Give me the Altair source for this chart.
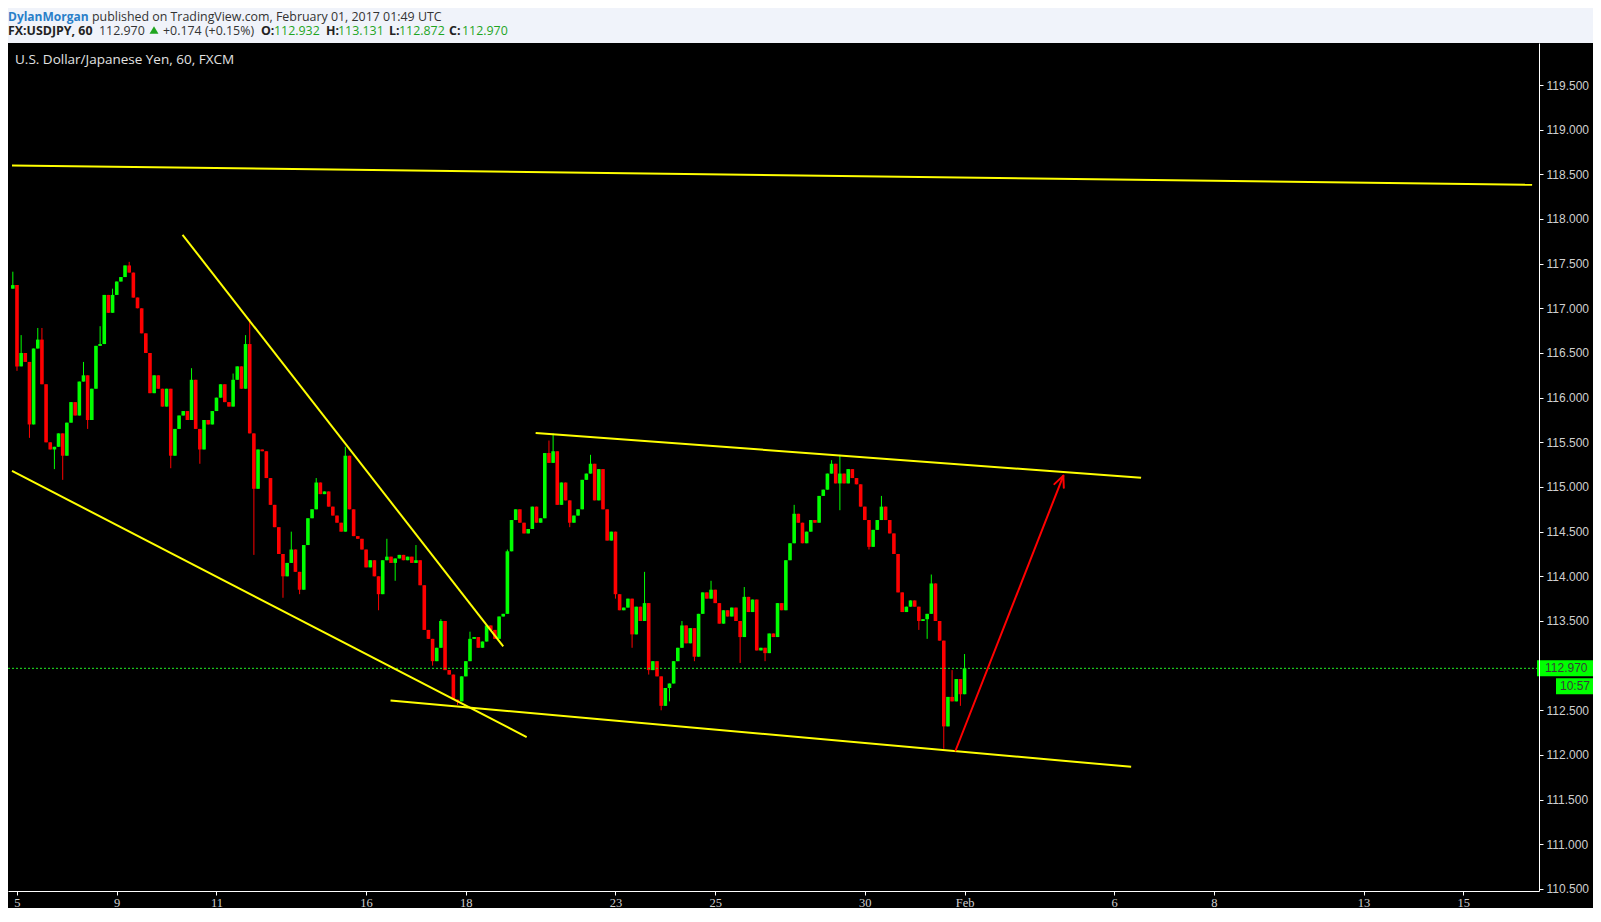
import altair as alt
import pandas as pd

# ---------------- data (2-hour bars, day index = bar/12, weekends skipped) ----------------
FIRST_BAR = -1
FIRST_OPEN = 117.22
CLOSES = [
    117.26,
    116.35, 116.50, 116.40, 115.70, 116.55, 116.65, 116.15, 115.50, 115.42, 115.45, 115.60, 115.35,
    115.72, 115.95, 115.80, 116.18, 116.25, 115.75, 116.10, 116.58, 116.60, 117.15, 116.95, 117.15,
    117.30, 117.35, 117.48, 117.40, 117.12, 117.00, 116.72, 116.50, 116.05, 116.25, 116.10, 115.90,
    116.10, 115.35, 115.65, 115.80, 115.85, 115.75, 116.20, 115.65, 115.42, 115.75, 115.70, 115.85,
    116.00, 116.15, 115.95, 115.90, 116.20, 116.35, 116.10, 116.60, 115.60, 114.98, 115.42, 115.40,
    115.10, 114.80, 114.55, 114.25, 114.00, 114.15, 114.30, 114.05, 113.85, 114.35, 114.65, 114.75,
    115.05, 114.92, 114.95, 114.78, 114.68, 114.60, 114.50, 115.35, 114.75, 114.45, 114.42, 114.30,
    114.10, 114.18, 114.00, 113.80, 114.18, 114.22, 114.15, 114.20, 114.24, 114.18, 114.22, 114.15,
    114.18, 113.90, 113.40, 113.30, 113.05, 113.20, 113.50, 112.95, 112.90, 112.62, 112.60, 112.88,
    113.05, 113.30, 113.32, 113.20, 113.27, 113.45, 113.40, 113.30, 113.55, 113.58, 114.28, 114.63,
    114.75, 114.60, 114.48, 114.53, 114.78, 114.60, 114.65, 115.38, 115.27, 115.40, 114.80, 115.05,
    114.85, 114.60, 114.68, 114.75, 115.08, 115.15, 115.26, 114.85, 115.20, 114.75, 114.40, 114.50,
    113.80, 113.62, 113.65, 113.75, 113.35, 113.66, 113.50, 113.70, 112.95, 113.05, 112.88, 112.55,
    112.75, 112.80, 113.05, 113.20, 113.45, 113.25, 113.42, 113.10, 113.58, 113.82, 113.75, 113.85,
    113.70, 113.47, 113.62, 113.55, 113.65, 113.50, 113.32, 113.77, 113.60, 113.74, 113.17, 113.20,
    113.14, 113.36, 113.32, 113.70, 113.62, 114.18, 114.37, 114.70, 114.60, 114.37, 114.50, 114.63,
    114.60, 114.90, 114.97, 115.15, 115.26, 115.04, 115.15, 115.04, 115.20, 115.10, 115.03, 114.78,
    114.63, 114.33, 114.52, 114.63, 114.78, 114.63, 114.48, 114.25, 113.82, 113.60, 113.66, 113.73,
    113.66, 113.50, 113.52, 113.58, 113.92, 113.50, 113.28, 112.32, 112.65, 112.60, 112.85, 112.68,
    112.97,
]
HIGH_WICKS = {-1: 117.41, 1: 116.70, 5: 116.78, 6: 116.78, 16: 116.40, 20: 116.80, 23: 117.22,
              27: 117.52, 42: 116.33, 52: 116.27, 55: 116.70, 56: 116.88, 66: 114.50, 72: 115.10,
              79: 115.45, 89: 114.42, 96: 114.35, 102: 113.52, 109: 113.38, 118: 114.30, 128: 115.52,
              129: 115.60, 138: 115.36, 151: 114.05, 160: 113.50, 167: 113.95, 175: 113.88,
              187: 114.80, 196: 115.30, 198: 115.36, 208: 114.90, 220: 114.02, 225: 112.95, 228: 113.13}
LOW_WICKS = {0: 116.30, 3: 115.55, 9: 115.20, 11: 115.08, 17: 115.65, 37: 115.21, 44: 115.26,
             57: 114.24, 64: 113.76, 68: 113.80, 87: 113.62, 91: 113.95, 100: 113.00, 106: 112.56,
             133: 114.55, 144: 113.75, 148: 113.20, 152: 112.90, 155: 112.50, 157: 112.60,
             163: 113.05, 174: 113.03, 180: 113.05, 198: 114.74, 205: 114.30, 217: 113.40,
             219: 113.30, 223: 112.07, 227: 112.55}

BARS_PER_DAY = 12
TICK_DAYS = [0, 2, 4, 7, 9, 12, 14, 17, 19, 22, 24, 27, 29]
TICK_LABELS = ["5", "9", "11", "16", "18", "23", "25", "30", "Feb", "6", "8", "13", "15"]
PRICE_TICKS = [110.5, 111.0, 111.5, 112.0, 112.5, 113.0, 113.5, 114.0, 114.5, 115.0, 115.5,
               116.0, 116.5, 117.0, 117.5, 118.0, 118.5, 119.0, 119.5]
LAST_PRICE = 112.970
COUNTDOWN = "10:57"

# trend lines drawn on the chart: (day, price) -> (day, price)
YELLOW_LINES = [
    (-0.10, 118.600, 30.38, 118.383),
    (-0.10, 115.180, 10.22, 112.200),
    (3.32, 117.823, 9.75, 113.217),
    (7.49, 112.610, 22.34, 111.867),
    (10.40, 115.605, 22.54, 115.103),
]
RED_ARROW = [
    (18.82, 112.050, 20.98, 115.125),
    (20.98, 115.125, 20.80, 115.032),
    (20.98, 115.125, 20.99, 114.991),
]

# ---------------- build tables ----------------
rows = []
prev = FIRST_OPEN
for i, c in enumerate(CLOSES):
    k = FIRST_BAR + i
    o = prev
    hi = max(o, c, HIGH_WICKS.get(k, max(o, c)))
    lo = min(o, c, LOW_WICKS.get(k, min(o, c)))
    rows.append({"t": k / BARS_PER_DAY, "open": o, "close": c, "high": hi, "low": lo,
                 "up": "up" if c >= o else "down"})
    prev = c
bars = pd.DataFrame(rows)
yl = pd.DataFrame(YELLOW_LINES, columns=["t1", "p1", "t2", "p2"])
ra = pd.DataFrame(RED_ARROW, columns=["t1", "p1", "t2", "p2"])

# ---------------- layout ----------------
W, H = 1531, 848
PAD_TOP, PAD_RIGHT, PAD_BOTTOM = 35, 54, 17
PX_PER_DAY = 50.2
PX_PER_UNIT = 89.33
T0 = -0.08
T1 = T0 + W / PX_PER_DAY
P_TOP = 119.5 + 42 / PX_PER_UNIT
P_BOT = P_TOP - H / PX_PER_UNIT

label_expr = "''"
for d, lab in reversed(list(zip(TICK_DAYS, TICK_LABELS))):
    label_expr = f"datum.value == {d} ? '{lab}' : ({label_expr})"

xscale = alt.Scale(domain=[T0, T1], nice=False, zero=False)
yscale = alt.Scale(domain=[P_BOT, P_TOP], nice=False, zero=False)

# the 113.000 label sits under the last-price box, as in the original
axis_prices = [v for v in PRICE_TICKS if abs(v - LAST_PRICE) > 0.1]

xaxis = alt.Axis(values=TICK_DAYS, labelExpr=label_expr, title=None, grid=False,
                 domainColor="#ffffff", tickColor="#ffffff", tickSize=4, labelPadding=1,
                 labelColor="#cfcfcf", labelFont="Liberation Sans Narrow", labelFontSize=12.5,
                 zindex=1, labelFlush=False, labelOverlap=False)
yaxis = alt.Axis(orient="right", values=axis_prices, format=".3f", title=None, grid=False,
                 domainColor="#ffffff", tickColor="#ffffff", tickSize=4, labelPadding=3,
                 labelColor="#cfcfcf", labelFont="Liberation Sans", labelFontSize=12,
                 zindex=1, labelFlush=False, labelOverlap=False)

one = pd.DataFrame({"a": [0]})

bg = alt.Chart(one).mark_rect(color="#000000", clip=False).encode(
    x=alt.value(0), x2=alt.value(W + PAD_RIGHT), y=alt.value(0), y2=alt.value(H + PAD_BOTTOM))

color_scale = alt.Scale(domain=["up", "down"], range=["#00ff00", "#ff0000"])
wicks = alt.Chart(bars).mark_rule(strokeWidth=1).encode(
    x=alt.X("t:Q", scale=xscale, axis=xaxis),
    y=alt.Y("low:Q", scale=yscale, axis=yaxis),
    y2="high:Q",
    color=alt.Color("up:N", scale=color_scale, legend=None),
)
bodies = alt.Chart(bars).mark_bar(width=3.6).encode(
    x="t:Q",
    y="open:Q",
    y2="close:Q",
    color=alt.Color("up:N", scale=color_scale, legend=None),
)

price_line = alt.Chart(one).mark_rule(color="#22ee22", strokeWidth=1, strokeDash=[2, 2]).encode(
    y=alt.datum(LAST_PRICE), x=alt.value(0), x2=alt.value(W))

ylines = alt.Chart(yl).mark_rule(color="#ffff00", strokeWidth=2).encode(
    x="t1:Q", y="p1:Q", x2="t2:Q", y2="p2:Q")
rlines = alt.Chart(ra).mark_rule(color="#ff0000", strokeWidth=2, strokeCap="round").encode(
    x="t1:Q", y="p1:Q", x2="t2:Q", y2="p2:Q")

half = 8 / PX_PER_UNIT
price_box = alt.Chart(one).mark_rect(color="#00ff00", clip=False).encode(
    x=alt.value(W - 2), x2=alt.value(W + PAD_RIGHT),
    y=alt.datum(LAST_PRICE + half), y2=alt.datum(LAST_PRICE - half))
price_txt = alt.Chart(one).mark_text(align="left", baseline="middle", font="Liberation Sans",
                                     fontSize=12, color="#3a3a3a", clip=False).encode(
    x=alt.value(W + 6), y=alt.datum(LAST_PRICE), text=alt.value(f"{LAST_PRICE:.3f}"))
cd_center = LAST_PRICE - 2.25 * half
cd_box = alt.Chart(one).mark_rect(color="#00ff00", clip=False).encode(
    x=alt.value(W + 17), x2=alt.value(W + PAD_RIGHT),
    y=alt.datum(cd_center + half), y2=alt.datum(cd_center - half))
cd_txt = alt.Chart(one).mark_text(align="right", baseline="middle", font="Liberation Sans",
                                  fontSize=12, color="#3a3a3a", clip=False).encode(
    x=alt.value(W + 51), y=alt.datum(cd_center), text=alt.value(COUNTDOWN))

# header / title text (layout positions in pixels relative to plot origin)
DARK = "#333333"
GREEN = "#1fa51f"
L1, L2 = -26, -12
header = [
    ("DylanMorgan", 0, L1, "#2a7fc9", "bold", 12),
    ("published on TradingView.com, February 01, 2017 01:49 UTC", 84, L1, DARK, "normal", 12.4),
    ("FX:USDJPY, 60", 0, L2, "#222222", "bold", 12.4),
    ("112.970", 91, L2, DARK, "normal", 12.4),
    ("+0.174 (+0.15%)", 155, L2, DARK, "normal", 12.4),
    ("O:", 253, L2, "#222222", "bold", 12.4),
    ("112.932", 266, L2, GREEN, "normal", 12.4),
    ("H:", 318, L2, "#222222", "bold", 12.4),
    ("113.131", 330, L2, GREEN, "normal", 12.4),
    ("L:", 381, L2, "#222222", "bold", 12.4),
    ("112.872", 391, L2, GREEN, "normal", 12.4),
    ("C:", 441, L2, "#222222", "bold", 12.4),
    ("112.970", 454, L2, GREEN, "normal", 12.4),
]
texts = []
for txt, px, py, col, wt, fs in header:
    texts.append(alt.Chart(one).mark_text(align="left", baseline="middle", font="Open Sans",
                                          fontSize=fs, color=col, fontWeight=wt, clip=False).encode(
        x=alt.value(px), y=alt.value(py), text=alt.value(txt)))
tri = alt.Chart(one).mark_point(shape="triangle-up", filled=True, color="#1fa51f", size=80,
                                opacity=1, clip=False).encode(x=alt.value(146), y=alt.value(L2 - 1))
title_txt = alt.Chart(one).mark_text(align="left", baseline="middle", font="Open Sans",
                                     fontSize=13.5, color="#e2e2e2", clip=False).encode(
    x=alt.value(7), y=alt.value(17), text=alt.value("U.S. Dollar/Japanese Yen, 60, FXCM"))

chart = alt.layer(
    bg, wicks, bodies, price_line, ylines, rlines, price_box, price_txt, cd_box, cd_txt,
    title_txt, tri, *texts
).properties(
    width=W, height=H,
    autosize=alt.AutoSizeParams(type="none"),
    padding={"left": 0, "top": PAD_TOP, "right": PAD_RIGHT, "bottom": PAD_BOTTOM},
    background="#f0f3fa",
).configure_view(strokeWidth=0)

chart.save("out.html", embed_options={"renderer": "svg", "actions": False})
